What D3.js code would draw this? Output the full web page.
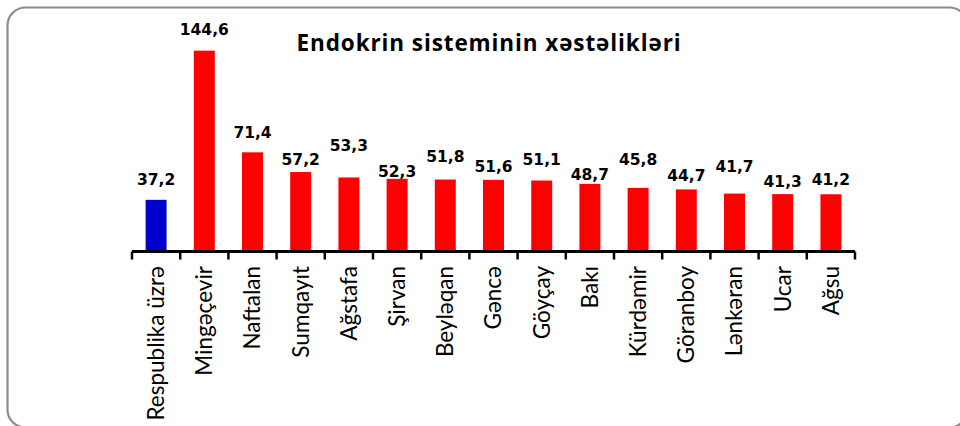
<!DOCTYPE html>
<html>
<head>
<meta charset="utf-8">
<script src="https://cdn.jsdelivr.net/npm/d3@7"></script>
<style>
  html, body { margin: 0; padding: 0; background: #fff; }
  svg { display: block; }
</style>
</head>
<body>
<svg id="chart" width="960" height="426"></svg>
<script>
// ---- data ----
const title = "Endokrin sisteminin xəstəlikləri";
const categories = ["Respublika üzrə", "Mingəçevir", "Naftalan", "Sumqayıt", "Ağstafa", "Şirvan",
  "Beyləqan", "Gəncə", "Göyçay", "Bakı", "Kürdəmir", "Göranboy", "Lənkəran", "Ucar", "Ağsu"];
const values = [37.2, 144.6, 71.4, 57.2, 53.3, 52.3, 51.8, 51.6, 51.1, 48.7, 45.8, 44.7, 41.7, 41.3, 41.2];
const highlight = ["Respublika üzrə"];

// ---- layout (label nudges as placed in the original) ----
const labelLift = [15, 15.5, 14.5, 7, 26, 2, 18, 8, 15.5, 4, 23, 8, 22, 7.5, 9];

const svg = d3.select("#chart");

// frame
svg.append("rect")
  .attr("x", 7.5).attr("y", 7.5)
  .attr("width", 960).attr("height", 420)
  .attr("rx", 18).attr("ry", 18)
  .attr("fill", "#fff")
  .attr("stroke", "#8c8c8c")
  .attr("stroke-width", 2.2);

const x = d3.scaleBand()
  .domain(categories)
  .range([132, 855])
  .paddingInner(0.565)
  .paddingOuter(0.2825);

const y = d3.scaleLinear()
  .domain([0, 160])
  .range([251.5, 251.5 - 160 * 1.389]);

const half = x.step() * x.paddingInner() / 2;

// title
svg.append("text")
  .attr("x", 489).attr("y", 51)
  .attr("text-anchor", "middle")
  .attr("font-family", "'Open Sans', Lato, sans-serif")
  .attr("font-weight", "bold")
  .attr("font-size", 22.5)
  .attr("letter-spacing", 0.9)
  .attr("fill", "#000")
  .text(title);

// bars
svg.append("g").selectAll("rect")
  .data(categories)
  .join("rect")
  .attr("x", d => x(d))
  .attr("width", x.bandwidth())
  .attr("y", (d, i) => y(values[i]))
  .attr("height", (d, i) => y(0) - y(values[i]))
  .attr("fill", d => highlight.includes(d) ? "#0000CC" : "#FF0000");

// axis line and ticks
const axis = svg.append("g");
const x0 = x(categories[0]) - half;
const x1 = x(categories[categories.length - 1]) + x.bandwidth() + half;
axis.append("line")
  .attr("x1", x0).attr("x2", x1)
  .attr("y1", y(0)).attr("y2", y(0))
  .attr("stroke", "#000").attr("stroke-width", 3);
const tickPos = categories.map(d => x(d) - half).concat([x1]);
axis.selectAll("line.tick")
  .data(tickPos)
  .join("line")
  .attr("class", "tick")
  .attr("x1", d => d).attr("x2", d => d)
  .attr("y1", y(0)).attr("y2", y(0) + 8)
  .attr("stroke", "#000").attr("stroke-width", 2.5);

// category labels
svg.append("g").selectAll("text")
  .data(categories)
  .join("text")
  .attr("transform", d => `translate(${x(d) + x.bandwidth() / 2},266) rotate(-90)`)
  .attr("text-anchor", "end")
  .attr("dy", "0.35em")
  .attr("font-family", "Lato, 'Open Sans', sans-serif")
  .attr("font-size", 22.5)
  .attr("fill", "#000")
  .text(d => d);

// value labels
svg.append("g").selectAll("text")
  .data(categories)
  .join("text")
  .attr("x", d => x(d) + x.bandwidth() / 2)
  .attr("y", (d, i) => y(values[i]) - labelLift[i])
  .attr("text-anchor", "middle")
  .attr("font-family", "'DejaVu Sans', sans-serif")
  .attr("font-weight", "bold")
  .attr("font-size", 15.5)
  .attr("fill", "#000")
  .text((d, i) => d3.format(".1f")(values[i]).replace(".", ","));
</script>
</body>
</html>
